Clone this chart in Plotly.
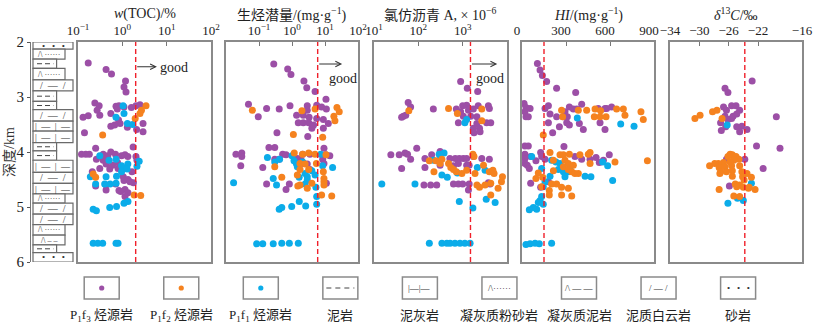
import math
import plotly.graph_objects as go

W, H = 814, 333
FONT = "Liberation Serif, Noto Sans CJK SC, serif"
C_F3, C_F2, C_F1 = "#9C4FA6", "#F5821F", "#0BACE9"

# ---------------- data ----------------
# lithology column (depth in km)
LITH_TOP = [2.00, 2.13, 2.31, 2.48, 2.69, 2.89, 3.08, 3.23, 3.44, 3.62, 3.83,
            3.98, 4.15, 4.37, 4.57, 4.76, 4.93, 5.13, 5.32, 5.51, 5.69, 5.83]
LITH_BOTTOM = [2.13, 2.31, 2.48, 2.69, 2.89, 3.08, 3.23, 3.44, 3.62, 3.83, 3.98,
               4.15, 4.37, 4.57, 4.76, 4.93, 5.13, 5.32, 5.51, 5.69, 5.83, 6.00]
LITH_TYPE = ["砂岩", "凝灰质粉砂岩", "泥岩", "凝灰质粉砂岩", "泥质白云岩", "泥岩",
             "泥岩", "泥质白云岩", "泥灰岩", "泥灰岩", "泥岩", "泥岩", "泥灰岩",
             "泥质白云岩", "泥灰岩", "凝灰质粉砂岩", "泥质白云岩", "泥质白云岩",
             "凝灰质粉砂岩", "凝灰质泥岩", "泥岩", "砂岩"]

# TOC (%)
TOC_F3 = [0.17, 0.43, 0.57, 1.18, 1.09, 1.21, 0.24, 0.30, 0.27, 0.13, 0.17, 0.31, 0.55,
          0.72, 0.84, 0.77, 1.09, 1.60, 2.03, 2.50, 0.82, 0.89, 0.55, 0.67, 0.14, 2.10,
          2.93, 2.93, 1.30, 1.75, 0.25, 0.12, 0.15, 0.18, 0.37, 0.47, 0.55, 0.70, 0.96,
          1.15, 1.33, 2.03, 2.14, 0.26, 0.37, 0.50, 0.43, 0.60, 0.78, 0.31, 0.52, 0.80,
          1.65, 0.21, 1.05, 1.34, 1.09, 1.78, 1.49, 0.25, 0.43, 0.71, 0.43, 0.84, 1.15,
          1.34, 0.92, 1.15]
TOC_F3_D = [2.38, 2.50, 2.58, 2.71, 2.82, 2.91, 3.11, 3.16, 3.24, 3.37, 3.34, 3.33, 3.30,
            3.17, 3.16, 3.22, 3.18, 3.19, 3.16, 3.14, 3.42, 3.48, 3.53, 3.51, 3.65, 3.59,
            3.48, 3.63, 3.55, 3.91, 3.93, 4.04, 4.04, 4.04, 4.04, 4.07, 4.00, 4.04, 4.07,
            4.05, 4.08, 4.08, 4.15, 4.13, 4.15, 4.16, 4.22, 4.24, 4.19, 4.30, 4.31, 4.30,
            4.36, 4.36, 4.45, 4.50, 4.52, 4.56, 4.54, 4.62, 4.60, 4.58, 4.69, 4.70, 4.68,
            4.74, 4.72, 4.81]
TOC_F2 = [3.42, 2.70, 2.50, 1.95, 0.36, 0.22, 0.25, 1.85, 2.60]
TOC_F2_D = [3.16, 3.24, 3.30, 3.39, 3.69, 4.40, 4.46, 4.78, 4.79]
TOC_F1 = [1.04, 1.09, 0.72, 1.30, 1.70, 0.31, 0.50, 0.72, 0.96, 1.33, 1.09, 1.28, 0.96,
          2.14, 2.40, 0.19, 0.43, 0.74, 0.25, 0.40, 0.53, 0.72, 1.34, 1.09, 0.22, 0.26,
          0.52, 0.74, 0.22, 0.28, 0.36, 0.72, 0.80]
TOC_F1_D = [3.16, 3.30, 3.37, 3.48, 3.50, 4.07, 4.15, 4.13, 4.25, 4.22, 4.30, 4.31, 4.36,
            4.26, 4.17, 4.45, 4.45, 4.44, 4.58, 4.58, 4.58, 4.57, 4.90, 4.93, 5.04, 5.07,
            5.01, 4.99, 5.66, 5.66, 5.66, 5.66, 5.66]

# hydrocarbon generation potential (mg/g)
PG_F3 = [0.28, 0.74, 0.93, 2.3, 2.8, 5.0, 10.7, 0.048, 0.17, 0.41, 0.87, 2.9, 2.9, 5.6,
         7.9, 11.0, 0.095, 1.38, 2.2, 3.3, 5.6, 8.9, 1.55, 2.2, 3.2, 4.0, 4.5, 8.9, 12.6,
         0.35, 3.0, 0.20, 0.30, 9.3, 0.020, 0.030, 0.030, 0.028, 0.13, 0.52, 0.30, 0.41,
         0.66, 2.1, 3.5, 1.45, 1.9, 2.2, 2.9, 10.7, 14.0, 8.5, 9.3, 3.5, 0.17, 0.83, 0.66,
         11.0]
PG_F3_D = [2.40, 2.49, 2.59, 2.71, 2.83, 2.90, 3.04, 3.13, 3.21, 3.22, 3.16, 3.16, 3.24,
           3.15, 3.18, 3.22, 3.36, 3.33, 3.33, 3.37, 3.39, 3.41, 3.47, 3.47, 3.47, 3.57,
           3.51, 3.57, 3.48, 3.65, 3.72, 3.92, 3.92, 3.93, 4.04, 4.02, 4.08, 4.25, 4.28,
           4.04, 4.13, 4.13, 4.05, 4.04, 4.04, 4.12, 4.15, 4.21, 4.22, 4.05, 4.07, 4.13,
           4.21, 4.32, 4.58, 4.58, 4.68, 4.57]
PG_F2 = [0.063, 2.0, 5.0, 23.0, 27.0, 18.6, 20.0, 1.1, 8.5, 1.17, 2.1, 3.2, 5.0, 10.7,
         0.30, 1.75, 2.5, 3.2, 5.5, 0.49, 1.45, 1.75, 8.9, 9.3, 9.3, 9.3, 1.5, 1.75, 2.9,
         4.0, 7.9, 16.0]
PG_F2_D = [3.24, 3.25, 3.22, 3.19, 3.27, 3.35, 3.43, 3.68, 3.73, 4.02, 4.04, 4.02, 4.04,
           4.05, 4.27, 4.21, 4.22, 4.32, 4.21, 4.46, 4.42, 4.32, 4.36, 4.48, 4.54, 4.60,
           4.62, 4.60, 4.66, 4.57, 4.78, 4.80]
PG_F1 = [0.18, 0.30, 0.42, 1.0, 1.15, 1.35, 1.45, 2.1, 2.5, 2.9, 4.0, 5.0, 7.4, 8.5, 17.0,
         0.27, 0.34, 1.65, 2.9, 2.5, 0.017, 5.3, 5.6, 5.6, 0.41, 0.49, 0.98, 1.66, 2.6,
         0.085, 0.13, 0.27, 0.49, 0.83, 1.55]
PG_F1_D = [4.10, 4.18, 4.13, 4.07, 4.16, 4.21, 4.27, 4.18, 4.39, 4.45, 4.34, 4.42, 4.04,
           4.25, 4.28, 4.48, 4.60, 4.46, 4.51, 4.58, 4.56, 4.64, 4.81, 4.95, 5.04, 5.01,
           4.99, 4.90, 4.98, 5.67, 5.67, 5.67, 5.66, 5.66, 5.66]

# chloroform bitumen "A" (x10^-6)
BA_F3 = [900, 1270, 2180, 59, 67, 46, 42, 52, 218, 720, 1000, 1230, 900, 1350, 1740, 2240,
         3800, 4000, 1035, 1520, 2090, 800, 2090, 1740, 2400, 3470, 4300, 1800, 2470, 92,
         24, 37, 50, 57, 67, 42, 141, 200, 310, 515, 680, 840, 1035, 1230, 1740, 2700,
         4000, 141, 310, 620, 800, 1230, 1400, 620, 800, 1000, 1350, 1400, 134, 190, 260,
         3800, 4150]
BA_F3_D = [2.72, 2.84, 2.90, 3.10, 3.18, 3.35, 3.37, 3.33, 3.22, 3.22, 3.16, 3.15, 3.27,
           3.24, 3.22, 3.16, 3.16, 3.21, 3.35, 3.35, 3.36, 3.47, 3.48, 3.57, 3.57, 3.47,
           3.47, 3.65, 3.63, 3.93, 4.05, 4.05, 4.02, 4.04, 4.13, 4.30, 4.12, 4.05, 3.99,
           4.12, 4.12, 4.12, 4.12, 4.12, 4.08, 4.12, 4.13, 4.28, 4.24, 4.25, 4.21, 4.24,
           4.24, 4.58, 4.58, 4.58, 4.69, 4.58, 4.60, 4.60, 4.60, 4.56, 4.58]
BA_F2 = [480, 61, 2700, 760, 2700, 177, 250, 310, 340, 480, 540, 620, 720, 225, 960, 1230,
         1700, 1800, 1900, 2950, 4000, 4800, 5100, 7900, 7500, 2100, 2400, 3200, 4300,
         6300, 4300]
BA_F2_D = [3.21, 3.25, 3.22, 3.30, 3.43, 4.16, 4.16, 4.21, 4.13, 4.21, 4.28, 4.32, 4.36,
           4.36, 4.39, 4.33, 4.04, 4.08, 4.39, 4.24, 4.36, 4.33, 4.39, 4.45, 4.54, 4.60,
           4.64, 4.60, 4.57, 4.66, 4.78]
BA_F1 = [1230, 1120, 15, 84, 218, 310, 295, 380, 340, 450, 760, 2140, 3200, 840, 3400,
         5400, 1700, 177, 340, 440, 520, 670, 870, 1120, 1470]
BA_F1_D = [3.41, 3.47, 4.58, 4.58, 4.15, 4.13, 4.04, 4.02, 4.42, 4.46, 4.38, 4.28, 4.33,
           4.90, 4.86, 4.92, 5.02, 5.66, 5.66, 5.66, 5.66, 5.66, 5.66, 5.66, 5.66]

# hydrogen index (mg/g)
HI_F3 = [105, 123, 139, 168, 236, 366, 14, 27, 55, 20, 27, 43, 157, 180, 191, 236, 282,
         309, 293, 323, 350, 373, 407, 520, 566, 577, 611, 180, 255, 305, 323, 391, 418,
         532, 566, 209, 20, 43, 286, 20, 20, 59, 127, 134, 20, 36, 50, 95, 157, 361, 407,
         464, 505, 527, 555, 595, 59, 127, 180]
HI_F3_D = [2.39, 2.51, 2.61, 2.72, 2.84, 2.92, 3.12, 3.19, 3.21, 3.27, 3.36, 3.36, 3.21,
           3.16, 3.31, 3.36, 3.36, 3.36, 3.27, 3.18, 3.22, 3.22, 3.13, 3.21, 3.21, 3.21,
           3.18, 3.47, 3.54, 3.47, 3.51, 3.48, 3.59, 3.47, 3.59, 3.65, 3.89, 3.89, 3.90,
           4.04, 4.12, 4.08, 4.01, 4.08, 4.21, 4.24, 4.30, 4.16, 4.13, 4.08, 4.13, 4.13,
           4.10, 4.19, 4.15, 4.05, 4.57, 4.64, 4.54]
HI_F2 = [270, 384, 441, 498, 536, 645, 691, 811, 827, 277, 493, 532, 573, 702, 145, 191,
         259, 282, 323, 395, 452, 464, 214, 293, 316, 350, 214, 282, 316, 339, 361, 384,
         111, 95, 141, 202, 236, 270, 316, 339, 270, 186, 186, 464, 634, 855, 134]
HI_F2_D = [3.24, 3.24, 3.24, 3.22, 3.25, 3.22, 3.22, 3.27, 3.41, 3.36, 3.36, 3.36, 3.36,
           3.33, 3.69, 4.01, 4.05, 4.05, 4.04, 4.05, 4.04, 4.01, 4.15, 4.15, 4.21, 4.24,
           4.34, 4.27, 4.32, 4.36, 4.39, 4.39, 4.38, 4.48, 4.46, 4.58, 4.58, 4.64, 4.66,
           4.80, 4.78, 4.70, 4.78, 4.21, 4.18, 4.16, 4.63]
HI_F1 = [377, 673, 764, 66, 134, 202, 232, 259, 248, 282, 316, 293, 327, 191, 157, 145,
         430, 470, 550, 584, 618, 134, 123, 111, 145, 100, 77, 50, 27, 55, 89, 118, 202]
HI_F1_D = [3.38, 3.49, 3.53, 4.08, 4.30, 4.15, 4.18, 4.21, 4.32, 4.36, 4.36, 4.45, 4.28,
           4.44, 4.54, 4.63, 4.44, 4.45, 4.18, 4.25, 4.52, 4.81, 4.88, 4.92, 4.95, 5.04,
           5.01, 5.05, 5.68, 5.67, 5.66, 5.67, 5.66]

# kerogen carbon isotope (per mil)
D13_F3 = [-22.8, -26.5, -26.1, -26.7, -26.3, -25.6, -25.0, -24.5, -26.5, -25.4, -24.9,
          -26.1, -25.6, -27.1, -26.4, -27.0, -24.9, -24.2, -23.5, -24.5, -19.5, -22.2,
          -19.0, -21.3, -26.3, -23.8, -25.9]
D13_F3_D = [2.71, 2.84, 2.92, 3.18, 3.24, 3.16, 3.16, 3.24, 3.35, 3.35, 3.31, 3.41, 3.39,
            3.47, 3.54, 3.61, 3.54, 3.53, 3.59, 3.63, 3.36, 3.89, 3.93, 4.30, 4.13, 4.13,
            4.62]
D13_F2 = [-30.6, -29.9, -28.2, -27.6, -26.9, -25.8, -25.5, -26.1, -25.0, -24.6, -25.3,
          -25.8, -26.7, -27.4, -27.9, -28.6, -27.3, -26.5, -25.6, -24.5, -27.1, -26.3,
          -25.5, -24.2, -23.5, -24.1, -22.9, -25.5, -27.2, -27.3, -25.1, -24.5, -24.0,
          -23.3, -22.4, -24.9, -25.3, -24.5, -23.2, -23.9]
D13_F2_D = [3.39, 3.33, 3.27, 3.24, 3.39, 4.04, 4.05, 4.08, 4.08, 4.13, 4.15, 4.18, 4.19,
            4.21, 4.21, 4.25, 4.28, 4.27, 4.25, 4.25, 4.36, 4.36, 4.34, 4.36, 4.39, 4.45,
            4.46, 4.44, 4.39, 4.68, 4.58, 4.60, 4.64, 4.66, 4.68, 4.63, 4.80, 4.81, 4.64,
            4.51]
D13_F1 = [-26.2, -22.9, -24.8, -24.0, -26.1]
D13_F1_D = [3.51, 4.57, 4.84, 4.88, 4.93]

LEGEND_LABELS = ["P<sub>1</sub>f<sub>3</sub> 烃源岩", "P<sub>1</sub>f<sub>2</sub> 烃源岩",
                 "P<sub>1</sub>f<sub>1</sub> 烃源岩", "泥岩", "泥灰岩", "凝灰质粉砂岩",
                 "凝灰质泥岩", "泥质白云岩", "砂岩"]

# ---------------- layout geometry (pixels) ----------------
TOP, BOTTOM = 42, 262
PANEL_X = [(78, 211), (226, 358), (374, 507), (522, 654), (670, 802)]
COL_X = (31, 75)          # column axis domain; column body starts 2 px inside
COL_W = 40.0              # full column width in px


def fx(p):
    return p / W


def fy(p):
    return 1 - p / H


def label(x, y, text, size=14, color="#222", **kw):
    d = dict(xref="paper", yref="paper", x=x, y=y, text=text, showarrow=False,
             xanchor="center", yanchor="middle",
             font=dict(size=size, family=FONT, color=color))
    d.update(kw)
    return d


PANELS = [
    dict(title="<i>w</i>(TOC)/%", type="log", range=[-1, 2],
         tickvals=[0.1, 1, 10, 100],
         ticktext=["10<sup>−1</sup>", "10<sup>0</sup>", "10<sup>1</sup>", "10<sup>2</sup>"],
         cut=2.0, shift=0,
         series=[(TOC_F3, TOC_F3_D), (TOC_F1, TOC_F1_D), (TOC_F2, TOC_F2_D)]),
    dict(title="生烃潜量/(mg·g<sup>−1</sup>)", type="log", range=[-2, 2],
         tickvals=[0.1, 1, 10, 100],
         ticktext=["10<sup>−1</sup>", "10<sup>0</sup>", "10<sup>1</sup>", "10<sup>2</sup>"],
         cut=6.0, shift=0,
         series=[(PG_F3, PG_F3_D), (PG_F1, PG_F1_D), (PG_F2, PG_F2_D)]),
    dict(title="氯仿沥青 A, × 10<sup>−6</sup>", type="log", range=[1, 4],
         tickvals=[10, 100, 1000],
         ticktext=["10<sup>1</sup>", "10<sup>2</sup>", "10<sup>3</sup>"],
         cut=1500.0, shift=0,
         series=[(BA_F3, BA_F3_D), (BA_F1, BA_F1_D), (BA_F2, BA_F2_D)]),
    dict(title="<i>HI</i>/(mg·g<sup>−1</sup>)", type="linear", range=[0, 900],
         tickvals=[0, 300, 600, 900], ticktext=["0", "300", "600", "900"],
         cut=150.0, shift=-5,
         series=[(HI_F3, HI_F3_D), (HI_F1, HI_F1_D), (HI_F2, HI_F2_D)]),
    dict(title="<i>δ</i><sup>13</sup><i>C</i>/‰", type="linear", range=[-34, -16],
         tickvals=[-34, -30, -26, -22, -16],
         ticktext=["−34", "−30", "−26", "−22", "−16"],
         cut=-23.8, shift=0,
         series=[(D13_F3, D13_F3_D), (D13_F1, D13_F1_D), (D13_F2, D13_F2_D)]),
]
SERIES_COLORS = [C_F3, C_F1, C_F2]

fig = go.Figure()
layout = dict(
    template="none",
    width=W, height=H, margin=dict(l=0, r=0, t=0, b=0, pad=0, autoexpand=False),
    paper_bgcolor="white", plot_bgcolor="white", showlegend=False,
    font=dict(family=FONT, size=13, color="#222"),
)
shapes, annotations = [], []

ydom = [fy(BOTTOM), fy(TOP)]

# column axes
layout["xaxis"] = dict(domain=[fx(COL_X[0]), fx(COL_X[1])],
                       range=[-2 / COL_W, (COL_X[1] - COL_X[0] - 2) / COL_W],
                       visible=False, fixedrange=True, automargin=False)
layout["yaxis"] = dict(domain=ydom, range=[6, 2], tickvals=[2, 3, 4, 5, 6],
                       ticks="outside", ticklen=3, tickcolor="#555",
                       showline=True, linecolor="#777", linewidth=1, showgrid=False,
                       zeroline=False, automargin=False, fixedrange=True,
                       tickfont=dict(size=15, family=FONT, color="#222"))
fig.add_trace(go.Scatter(x=[0], y=[2], mode="markers", marker=dict(opacity=0),
                         xaxis="x", yaxis="y", hoverinfo="skip"))

# lithology column
WIDTH_OF = {"砂岩": 1.0, "泥质白云岩": 1.0, "泥灰岩": 1.0,
            "凝灰质粉砂岩": 0.8, "凝灰质泥岩": 0.8, "泥岩": 0.59}
PATTERN_OF = {"砂岩": "•   •   •", "凝灰质粉砂岩": "/\\ ······", "凝灰质泥岩": "/\\ – –",
              "泥质白云岩": "/  —  /", "泥灰岩": "|  —  |  —"}
PATTERN_SIZE = {"砂岩": 9, "凝灰质粉砂岩": 8, "凝灰质泥岩": 8, "泥质白云岩": 10, "泥灰岩": 9}
for top, bot, kind in zip(LITH_TOP, LITH_BOTTOM, LITH_TYPE):
    w = WIDTH_OF[kind]
    shapes.append(dict(type="rect", xref="x", yref="y", x0=0, x1=w, y0=top, y1=bot,
                       line=dict(color="#6a6a6a", width=1.2), fillcolor="white", layer="above"))
    mid = (top + bot) / 2
    if kind == "泥岩":
        shapes.append(dict(type="line", xref="x", yref="y", x0=0.1, x1=w - 0.08, y0=mid, y1=mid,
                           line=dict(color="#444", width=1, dash="5px,3px"), layer="above"))
    else:
        annotations.append(dict(xref="x", yref="y", x=w / 2, y=mid, text=PATTERN_OF[kind],
                                showarrow=False, xanchor="center", yanchor="middle",
                                font=dict(size=PATTERN_SIZE[kind], color="#333", family=FONT)))

# panels
for i, p in enumerate(PANELS):
    n = i + 2
    x0, x1 = PANEL_X[i]
    layout[f"xaxis{n}"] = dict(
        domain=[fx(x0), fx(x1)], type=p["type"], range=p["range"], side="top",
        tickvals=p["tickvals"], ticktext=p["ticktext"], ticks="inside", ticklen=4,
        ticklabelshift=p["shift"], ticklabeloverflow="allow",
        tickcolor="#777", showline=True, mirror=True, linecolor="#8a8a8a", linewidth=1.5,
        showgrid=False, zeroline=False, anchor=f"y{n}", automargin=False,
        tickfont=dict(size=13, family=FONT, color="#222"), fixedrange=True)
    layout[f"yaxis{n}"] = dict(
        domain=ydom, range=[6, 2], matches="y", showticklabels=False, ticks="",
        showline=True, mirror=True, linecolor="#8a8a8a", linewidth=1.5,
        showgrid=False, zeroline=False, anchor=f"x{n}", automargin=False, fixedrange=True)
    for (vals, depth), color in zip(p["series"], SERIES_COLORS):
        fig.add_trace(go.Scatter(x=vals, y=depth, mode="markers", xaxis=f"x{n}", yaxis=f"y{n}",
                                 marker=dict(size=7, color=color, line=dict(width=0)),
                                 hoverinfo="skip"))
    shapes.append(dict(type="line", xref=f"x{n}", yref=f"y{n} domain", x0=p["cut"], x1=p["cut"],
                       y0=0, y1=1, line=dict(color="#F0202A", width=1.4, dash="5px,3px")))
    annotations.append(label(fx((x0 + x1) / 2), fy(14), p["title"]))

# "good" arrows on the three abundance panels
GOOD = [  # (axis number, arrow tip, arrow depth, text x, text depth)
    (2, 10 ** 0.78, 2.45, 10 ** 1.16, 2.46),
    (3, 10 ** 1.52, 2.40, 10 ** 1.56, 2.66),
    (4, 10 ** 3.78, 2.40, 10 ** 3.61, 2.66),
]
for n, tip, dy, tx, ty in GOOD:
    cut = PANELS[n - 2]["cut"]
    annotations.append(dict(xref=f"x{n}", yref=f"y{n}", x=math.log10(tip), y=dy,
                            axref=f"x{n}", ayref=f"y{n}", ax=math.log10(cut), ay=dy,
                            text="", showarrow=True, arrowhead=5, arrowsize=1.1,
                            arrowwidth=1, arrowcolor="#333"))
    annotations.append(dict(xref=f"x{n}", yref=f"y{n}", x=math.log10(tx), y=ty, text="good",
                            showarrow=False, xanchor="center", yanchor="middle",
                            font=dict(size=14, family=FONT, color="#222")))

# depth axis title
annotations.append(label(fx(10), fy(152), "深度/km", color="#333", textangle=-90))

# legend
LEG_CX0, LEG_STEP, LEG_W = 101.7, 79.55, 35
LEG_Y0, LEG_Y1, LEG_TEXT_Y = 277, 299, 315
LEG_MARK = [("dot", C_F3), ("dot", C_F2), ("dot", C_F1), ("dash", None),
            ("text", "|—|—"), ("text", "/\\······"), ("text", "/\\ — —"),
            ("text", "/ — /"), ("text", "•   •   •")]
for k, (name, (kind, val)) in enumerate(zip(LEGEND_LABELS, LEG_MARK)):
    cx = LEG_CX0 + k * LEG_STEP
    cy = (LEG_Y0 + LEG_Y1) / 2
    shapes.append(dict(type="rect", xref="paper", yref="paper",
                       x0=fx(cx - LEG_W / 2), x1=fx(cx + LEG_W / 2), y0=fy(LEG_Y1), y1=fy(LEG_Y0),
                       line=dict(color="#8a8a8a", width=1.5)))
    if kind == "dot":
        shapes.append(dict(type="circle", xref="paper", yref="paper",
                           x0=fx(cx - 2.6), x1=fx(cx + 2.6), y0=fy(cy + 2.6), y1=fy(cy - 2.6),
                           line=dict(width=0), fillcolor=val))
    elif kind == "dash":
        shapes.append(dict(type="line", xref="paper", yref="paper",
                           x0=fx(cx - 14), x1=fx(cx + 14), y0=fy(cy), y1=fy(cy),
                           line=dict(color="#444", width=1, dash="5px,4px")))
    else:
        annotations.append(label(fx(cx), fy(cy), val, size=9, color="#333"))
    annotations.append(label(fx(cx), fy(LEG_TEXT_Y), name, size=13))

layout["shapes"] = shapes
layout["annotations"] = annotations
fig.update_layout(**layout)
fig.write_html("out.html")
